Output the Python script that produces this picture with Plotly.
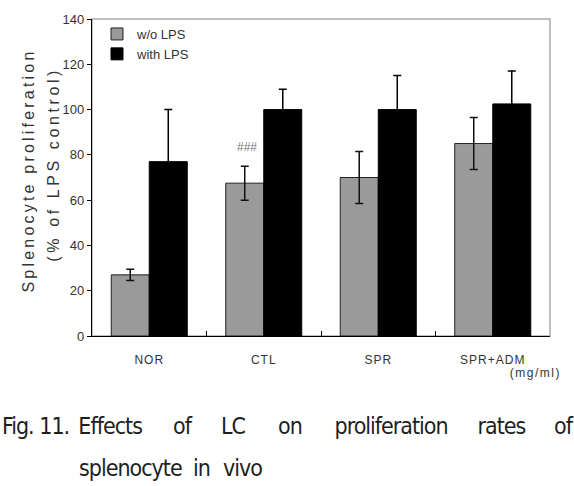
import plotly.graph_objects as go

# ---- data ----
categories = ["NOR", "CTL", "SPR", "SPR+ADM"]
wo_lps = [27, 67.5, 70, 85]
wo_lps_err = [2.5, 7.5, 11.5, 11.5]
with_lps = [77, 100, 100, 102.5]
with_lps_err = [23, 9, 15, 14.5]
y_ticks = [0, 20, 40, 60, 80, 100, 120, 140]
series_names = ["w/o LPS", "with LPS"]
y_title_lines = ["Splenocyte proliferation", "(% of LPS control)"]
unit_label = "(mg/ml)"
sig_label = "###"
fig_label = "Fig. 11."
caption_line1 = ["Effects", "of", "LC", "on", "proliferation", "rates", "of"]
caption_line2 = ["splenocyte", "in", "vivo"]

# ---- layout geometry (pixels) ----
W, H = 574, 486
L, R, T, B = 92, 550, 13, 336


def px(x):
    return (x - L) / (R - L)


def py(y):
    return (B - y) / (B - T)


fig = go.Figure()
fig.add_bar(
    x=categories, y=wo_lps, name=series_names[0],
    marker=dict(color="#9a9a9a", line=dict(color="#222", width=1)),
    error_y=dict(type="data", array=wo_lps_err, color="#111", thickness=1.5, width=4),
)
fig.add_bar(
    x=categories, y=with_lps, name=series_names[1],
    marker=dict(color="#000000", line=dict(color="#000", width=1)),
    error_y=dict(type="data", array=with_lps_err, color="#000", thickness=1.5, width=4),
)

annotations = []
# significance marker
annotations.append(dict(x="CTL", y=83.5, xref="x", yref="y", text=sig_label, showarrow=False,
                        xshift=-17, font=dict(size=12, color="#777")))
# unit label
annotations.append(dict(x=px(535), y=py(374), xref="paper", yref="paper", text=unit_label,
                        showarrow=False, xanchor="center", yanchor="middle",
                        font=dict(size=12, color="#333")))
# y-axis title (two rotated lines)
annotations.append(dict(x=px(28), y=py(168), xref="paper", yref="paper", text=y_title_lines[0],
                        showarrow=False, textangle=-90, xanchor="center", yanchor="middle",
                        font=dict(size=16, color="#333")))
annotations.append(dict(x=px(53), y=py(161), xref="paper", yref="paper", text=y_title_lines[1],
                        showarrow=False, textangle=-90, xanchor="center", yanchor="middle",
                        font=dict(size=16, color="#333")))
# caption (justified word by word)
cap_font = dict(family="DejaVu Sans Condensed, Liberation Sans Narrow, sans-serif",
                size=23, color="#1e1e1e")
annotations.append(dict(x=px(35), y=py(428), xref="paper", yref="paper", text=fig_label,
                        showarrow=False, xanchor="center", yanchor="middle", font=cap_font))
line1_centers = [109.5, 182, 232.5, 289.5, 391, 501, 563]
for w, xc in zip(caption_line1, line1_centers):
    annotations.append(dict(x=px(xc), y=py(428), xref="paper", yref="paper", text=w,
                            showarrow=False, xanchor="center", yanchor="middle", font=cap_font))
line2_centers = [130, 201.5, 242.5]
for w, xc in zip(caption_line2, line2_centers):
    annotations.append(dict(x=px(xc), y=py(470), xref="paper", yref="paper", text=w,
                            showarrow=False, xanchor="center", yanchor="middle", font=cap_font))

fig.update_layout(
    width=W, height=H,
    margin=dict(l=L, r=W - R, t=T, b=H - B, pad=0),
    barmode="group", bargap=0.336, bargroupgap=0,
    plot_bgcolor="white", paper_bgcolor="white",
    font=dict(family="Liberation Sans, Arial, Helvetica, sans-serif", color="#333"),
    showlegend=True,
    legend=dict(x=px(97), y=py(13), xanchor="left", yanchor="top",
                bgcolor="rgba(0,0,0,0)", font=dict(size=13, color="#333"),
                itemwidth=30, tracegroupgap=0),
    annotations=annotations,
    shapes=[dict(type="rect", xref="paper", yref="paper", x0=0, y0=0, x1=1, y1=1,
                 line=dict(color="#aaaaaa", width=1.5), layer="below")],
)
fig.update_xaxes(
    type="category", showline=True, linecolor="#000", linewidth=1.2,
    ticks="inside", tickson="boundaries", ticklen=5, tickcolor="#000",
    showgrid=False, zeroline=False, tickfont=dict(size=12, color="#333"),
    ticklabelstandoff=12,
)
fig.update_yaxes(
    range=[0, 140], tickvals=y_ticks, showline=True, linecolor="#000", linewidth=1.2,
    ticks="outside", ticklen=4, tickcolor="#000", showgrid=False, zeroline=False,
    tickfont=dict(size=13, color="#333"),
)

js = """
var cap = ['Fig. 11.','Effects','of','LC','on','proliferation','rates','splenocyte','in','vivo'];
document.querySelectorAll('.annotation-text').forEach(function(t){
  var s = t.textContent;
  if (s === 'Splenocyte proliferation') t.style.letterSpacing = '3.2px';
  if (s === '(% of LPS control)') t.style.letterSpacing = '3.6px';
  if (s === '(mg/ml)') t.style.letterSpacing = '1.5px';
  if (cap.indexOf(s) >= 0) t.style.letterSpacing = '-1px';
});
document.querySelectorAll('.xtick text').forEach(function(t){ t.style.letterSpacing = '1px'; });
"""
fig.write_html("out.html", post_script=js)
